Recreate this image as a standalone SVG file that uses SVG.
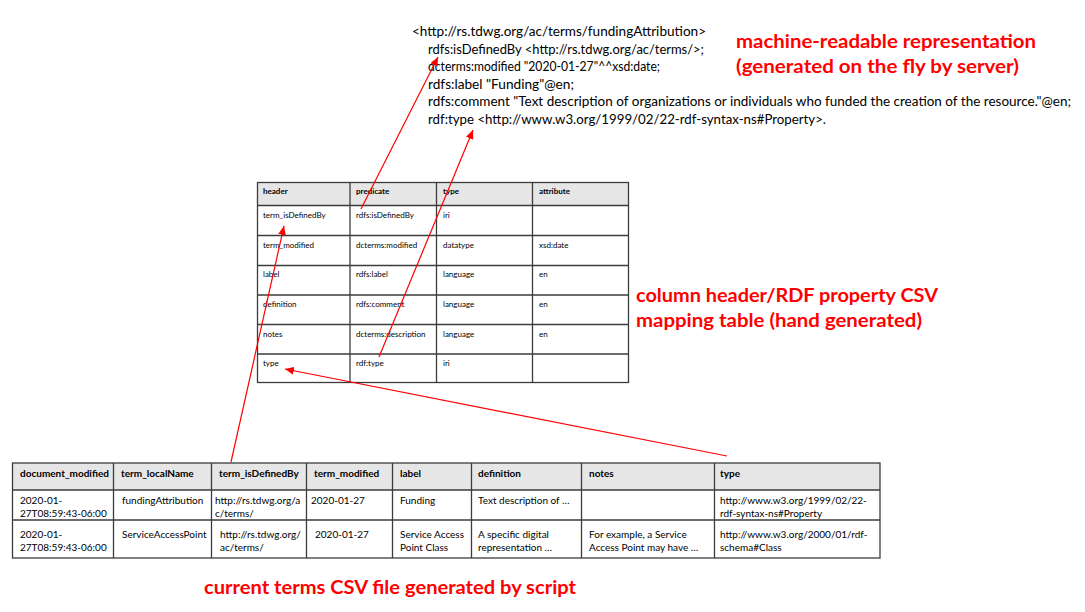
<svg xmlns="http://www.w3.org/2000/svg" width="1085" height="612" viewBox="0 0 1085 612">
<style>
.rdf{font-family:Lato,"Liberation Sans",sans-serif;font-size:12.5px;fill:#000}
.note{font-family:Lato,"Liberation Sans",sans-serif;font-size:19px;font-weight:bold;fill:#ff0000}
.m{font-family:Lato,"Liberation Sans",sans-serif;font-size:8px;fill:#000}
.mh{font-family:Lato,"Liberation Sans",sans-serif;font-size:8px;font-weight:bold;fill:#000}
.b{font-family:Lato,"Liberation Sans",sans-serif;font-size:10px;fill:#000}
.bh{font-family:Lato,"Liberation Sans",sans-serif;font-size:10px;font-weight:bold;fill:#000}
.grid{stroke:#3c3c3c;stroke-width:1.3;fill:none}
.hdr{fill:#e7e6e6}
.arr{stroke:#ff0000;stroke-width:1.2;fill:none;marker-end:url(#ah)}
</style>
<defs>
<marker id="ah" markerUnits="userSpaceOnUse" markerWidth="10" markerHeight="8" refX="9" refY="4" orient="auto">
<path d="M0,0 L9,4 L0,8 z" fill="#ff0000"/>
</marker>
</defs>
<rect width="1085" height="612" fill="#fff"/>

<g id="rdf-representation">
<text class="rdf" x="412" y="36" textLength="294" lengthAdjust="spacingAndGlyphs">&lt;http://rs.tdwg.org/ac/terms/fundingAttribution&gt;</text>
<text class="rdf" x="428" y="53.5" textLength="276" lengthAdjust="spacingAndGlyphs">rdfs:isDefinedBy &lt;http://rs.tdwg.org/ac/terms/&gt;;</text>
<text class="rdf" x="428" y="71" textLength="232" lengthAdjust="spacingAndGlyphs">dcterms:modified "2020-01-27"^^xsd:date;</text>
<text class="rdf" x="428" y="88.5" textLength="146" lengthAdjust="spacingAndGlyphs">rdfs:label "Funding"@en;</text>
<text class="rdf" x="428" y="106" textLength="643" lengthAdjust="spacingAndGlyphs">rdfs:comment "Text description of organizations or individuals who funded the creation of the resource."@en;</text>
<text class="rdf" x="428" y="123.5" textLength="398" lengthAdjust="spacingAndGlyphs">rdf:type &lt;http://www.w3.org/1999/02/22-rdf-syntax-ns#Property&gt;.</text>
</g>

<g id="label-machine">
<text class="note" x="736" y="48" textLength="300" lengthAdjust="spacingAndGlyphs">machine-readable representation</text>
<text class="note" x="736" y="73" textLength="283" lengthAdjust="spacingAndGlyphs">(generated on the fly by server)</text>
</g>

<g id="label-mapping">
<text class="note" x="636" y="302" textLength="302" lengthAdjust="spacingAndGlyphs">column header/RDF property CSV</text>
<text class="note" x="636" y="327" textLength="286" lengthAdjust="spacingAndGlyphs">mapping table (hand generated)</text>
</g>

<g id="label-csv">
<text class="note" x="204" y="594" textLength="372" lengthAdjust="spacingAndGlyphs">current terms CSV file generated by script</text>
</g>

<g id="mapping-table">
<rect class="hdr" x="257.5" y="182.5" width="371" height="23"/>
<rect class="grid" x="257.5" y="182.5" width="371" height="200"/>
<path class="grid" d="M257.5,205.5H628.5M257.5,235.5H628.5M257.5,265.5H628.5M257.5,295H628.5M257.5,324.5H628.5M257.5,354H628.5M350,182.5V382.5M436.5,182.5V382.5M532.5,182.5V382.5"/>
<text class="mh" x="263" y="194">header</text>
<text class="mh" x="356" y="194">predicate</text>
<text class="mh" x="443" y="194">type</text>
<text class="mh" x="539" y="194">attribute</text>
<text class="m" x="263" y="217.5">term_isDefinedBy</text>
<text class="m" x="356" y="217.5">rdfs:isDefinedBy</text>
<text class="m" x="443" y="217.5">iri</text>
<text class="m" x="263" y="247.5">term_modified</text>
<text class="m" x="356" y="247.5">dcterms:modified</text>
<text class="m" x="443" y="247.5">datatype</text>
<text class="m" x="539" y="247.5">xsd:date</text>
<text class="m" x="263" y="277">label</text>
<text class="m" x="356" y="277">rdfs:label</text>
<text class="m" x="443" y="277">language</text>
<text class="m" x="539" y="277">en</text>
<text class="m" x="263" y="307">definition</text>
<text class="m" x="356" y="307">rdfs:comment</text>
<text class="m" x="443" y="307">language</text>
<text class="m" x="539" y="307">en</text>
<text class="m" x="263" y="336.5">notes</text>
<text class="m" x="356" y="336.5">dcterms:description</text>
<text class="m" x="443" y="336.5">language</text>
<text class="m" x="539" y="336.5">en</text>
<text class="m" x="263" y="365.5">type</text>
<text class="m" x="356" y="365.5">rdf:type</text>
<text class="m" x="443" y="365.5">iri</text>
</g>

<g id="csv-table">
<rect class="hdr" x="12.5" y="463" width="867.5" height="27"/>
<rect class="grid" x="12.5" y="463" width="867.5" height="95"/>
<path class="grid" d="M12.5,490H880M12.5,520H880M113.5,463V558M211.5,463V558M306.5,463V558M392.5,463V558M471.5,463V558M581.5,463V558M714.5,463V558"/>
<text class="bh" x="20" y="476.5">document_modified</text>
<text class="bh" x="121" y="476.5">term_localName</text>
<text class="bh" x="219" y="476.5">term_isDefinedBy</text>
<text class="bh" x="314" y="476.5">term_modified</text>
<text class="bh" x="400" y="476.5">label</text>
<text class="bh" x="478" y="476.5">definition</text>
<text class="bh" x="589" y="476.5">notes</text>
<text class="bh" x="720" y="476.5">type</text>

<text class="b" x="20" y="504">2020-01-</text>
<text class="b" x="20" y="517">27T08:59:43-06:00</text>
<text class="b" x="122" y="504">fundingAttribution</text>
<text class="b" x="215" y="504">http://rs.tdwg.org/a</text>
<text class="b" x="215" y="517">c/terms/</text>
<text class="b" x="311" y="504">2020-01-27</text>
<text class="b" x="400" y="504">Funding</text>
<text class="b" x="478" y="504">Text description of …</text>
<text class="b" x="720" y="504">http://www.w3.org/1999/02/22-</text>
<text class="b" x="720" y="517">rdf-syntax-ns#Property</text>

<text class="b" x="20" y="537.5">2020-01-</text>
<text class="b" x="20" y="550.5">27T08:59:43-06:00</text>
<text class="b" x="122" y="537.5">ServiceAccessPoint</text>
<text class="b" x="220" y="537.5">http://rs.tdwg.org/</text>
<text class="b" x="220" y="550.5">ac/terms/</text>
<text class="b" x="315" y="537.5">2020-01-27</text>
<text class="b" x="400" y="537.5">Service Access</text>
<text class="b" x="400" y="550.5">Point Class</text>
<text class="b" x="478" y="537.5">A specific digital</text>
<text class="b" x="478" y="550.5">representation …</text>
<text class="b" x="589" y="537.5">For example, a Service</text>
<text class="b" x="589" y="550.5">Access Point may have …</text>
<text class="b" x="720" y="537.5">http://www.w3.org/2000/01/rdf-</text>
<text class="b" x="720" y="550.5">schema#Class</text>
</g>

<g id="connectors">
<path class="arr" d="M231,462 L284,226"/>
<path class="arr" d="M361,209 L438,57"/>
<path class="arr" d="M379,357 L473,130"/>
<path class="arr" d="M727,456 L285,369"/>
</g>
</svg>
